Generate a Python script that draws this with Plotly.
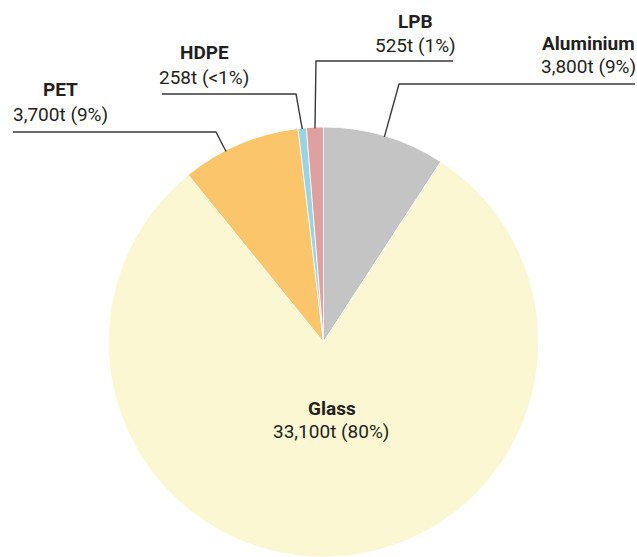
import math
import plotly.graph_objects as go

# Packaging material tonnages
materials = ["Aluminium", "Glass", "PET", "HDPE", "LPB"]
tonnes = [3800, 33100, 3700, 258, 525]
colors = ["#c4c4c4", "#faf7d2", "#fbc56b", "#9bd3e1", "#dea19f"]

W, H = 637, 557
CX, CY, R = 323.5, 342.0, 215.0  # pie centre and radius in pixels

TEXT = "#231f20"
FONT = "Roboto, sans-serif"
FSIZE = 19


def px(x):
    return x / W


def py(y):
    return 1 - y / H


total = sum(tonnes)


def pct_label(v):
    p = v / total * 100
    return "<1%" if p < 1 else f"{round(p)}%"


def value_label(v):
    return f"{v:,}t ({pct_label(v)})"


# slice angle ranges, clockwise from 12 o'clock
starts, ends = [], []
acc = 0.0
for v in tonnes:
    starts.append(acc)
    acc += v / total * 360
    ends.append(acc)


def edge_point(i, frac, rr=R - 1):
    a = math.radians(starts[i] + frac * (ends[i] - starts[i]))
    return CX + rr * math.sin(a), CY - rr * math.cos(a)


fig = go.Figure(
    go.Pie(
        labels=materials,
        values=tonnes,
        sort=False,
        direction="clockwise",
        rotation=0,
        marker=dict(colors=colors, line=dict(color="#ffffff", width=0.8)),
        textinfo="none",
        hoverinfo="label+value+percent",
        domain=dict(x=[px(CX - R), px(CX + R)], y=[py(CY + R), py(CY - R)]),
    )
)

# callouts: fraction along slice, elbow, line end x, name pos, value pos
callouts = {
    "Aluminium": (0.5, (399, 84), 635, (588, 44), (588, 67)),
    "PET": (0.37, (216, 132), 13, (60, 90), (60, 114)),
    "HDPE": (0.5, (296, 94), 162, (204, 53), (204, 77)),
    "LPB": (0.5, (316, 61), 453, (415, 22), (415, 46)),
}


def label(x, y, text):
    return dict(x=px(x), y=py(y), xref="paper", yref="paper", text=text,
                showarrow=False, xanchor="center", yanchor="middle",
                font=dict(family=FONT, size=FSIZE, color=TEXT))


shapes = []
annotations = []
for name, (frac, elbow, xend, npos, vpos) in callouts.items():
    i = materials.index(name)
    ex, ey = edge_point(i, frac)
    path = (
        f"M {px(ex)} {py(ey)} L {px(elbow[0])} {py(elbow[1])} "
        f"L {px(xend)} {py(elbow[1])}"
    )
    shapes.append(
        dict(type="path", xref="paper", yref="paper", path=path,
             line=dict(color="#3a3a3a", width=1.4))
    )
    annotations.append(label(npos[0], npos[1], f"<b>{name}</b>"))
    annotations.append(label(vpos[0], vpos[1], value_label(tonnes[i])))

# label inside the glass slice
gi = materials.index("Glass")
annotations.append(label(332, 408, f"<b>{materials[gi]}</b>"))
annotations.append(label(331, 432, value_label(tonnes[gi])))

fig.update_layout(
    width=W,
    height=H,
    margin=dict(l=0, r=0, t=0, b=0),
    paper_bgcolor="white",
    plot_bgcolor="white",
    showlegend=False,
    shapes=shapes,
    annotations=annotations,
)

fig.write_html("out.html")
